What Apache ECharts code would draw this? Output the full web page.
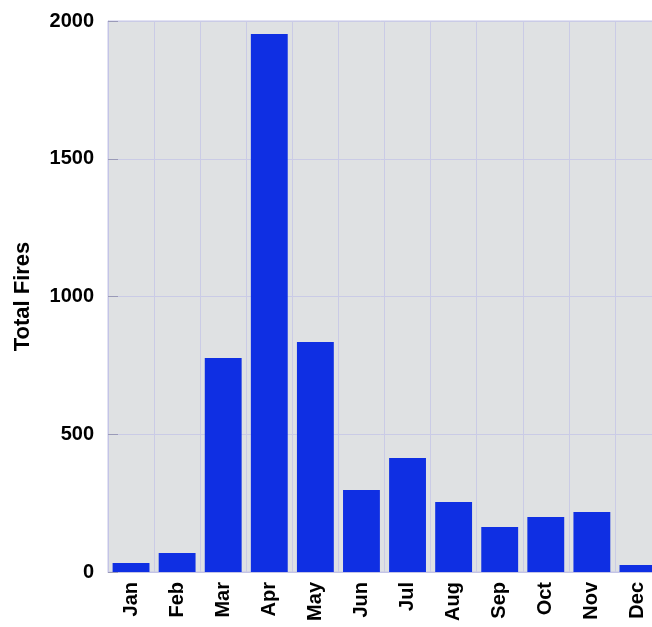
<!DOCTYPE html>
<html>
<head>
<meta charset="utf-8">
<script src="https://cdn.jsdelivr.net/npm/echarts@6/dist/echarts.min.js"></script>
<style>html,body{margin:0;padding:0;background:#fff;overflow:hidden}#c{width:652px;height:627px}</style>
</head>
<body>
<div id="c"></div>
<script>
var months = ['Jan','Feb','Mar','Apr','May','Jun','Jul','Aug','Sep','Oct','Nov','Dec'];
var totalFires = [33, 69, 777, 1953, 835, 298, 414, 254, 163, 200, 218, 25];
var yTicks = [0, 500, 1000, 1500, 2000];

var chart = echarts.init(document.getElementById('c'), null, {renderer: 'canvas'});
chart.setOption({
  animation: false,
  grid: {left: 108, top: 21, width: 553, bottom: 55, outerBoundsMode: 'none', containLabel: false, show: true, backgroundColor: '#dfe1e3', borderColor: '#c4c4e6', borderWidth: 1},
  xAxis: {
    type: 'category', data: months,
    axisLine: {show: true, lineStyle: {color: '#c4c4e6'}},
    axisTick: {show: false},
    splitLine: {show: true, lineStyle: {color: '#cacbe6', width: 1}},
    axisLabel: {rotate: 90, fontSize: 20, fontWeight: 'bold', color: '#000', fontFamily: 'Liberation Sans', margin: 10, interval: 0}
  },
  yAxis: {
    type: 'value', min: 0, max: 2000, interval: 500,
    name: 'Total Fires', nameLocation: 'middle', nameGap: 74, nameRotate: 90,
    nameTextStyle: {fontSize: 22, fontWeight: 'bold', color: '#000', fontFamily: 'Liberation Sans'},
    axisLine: {show: true, lineStyle: {color: '#c4c4e6'}},
    axisTick: {show: true, inside: true, length: 10, lineStyle: {color: '#9a9ab8'}},
    splitLine: {show: true, lineStyle: {color: '#cacbe6', width: 1}},
    axisLabel: {fontSize: 20, fontWeight: 'bold', color: '#000', fontFamily: 'Liberation Sans', margin: 14,
      formatter: function(v){ return yTicks.indexOf(v) >= 0 ? String(v) : ''; }}
  },
  series: [{
    type: 'bar', data: totalFires, barCategoryGap: '20%',
    itemStyle: {color: '#0f2fe3'}
  }]
});
</script>
</body>
</html>
